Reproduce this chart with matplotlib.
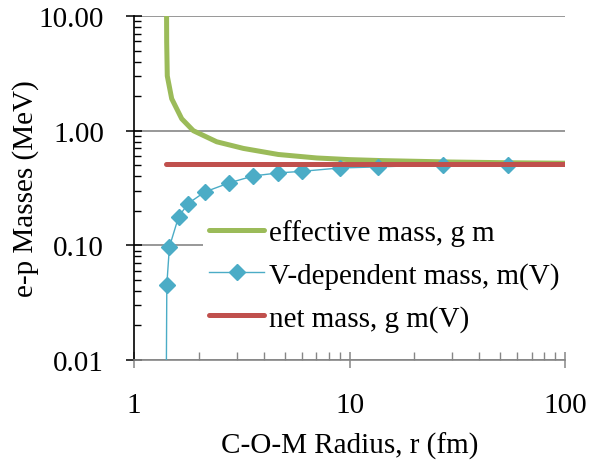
"""Effective, V-dependent and net e-p masses against centre-of-mass radius."""

import numpy as np
import matplotlib

matplotlib.use("Agg")
from matplotlib import pyplot as plt
from matplotlib.ticker import FixedLocator, FuncFormatter, LogLocator, NullFormatter

# values
radius_fm = [1.41, 1.42, 1.46, 1.61, 1.78, 2.13, 2.76, 3.58, 4.67, 6.02, 9.03, 13.6, 27.2, 54.6, 100.0]
v_mass = [0.004, 0.0454, 0.097, 0.177, 0.231, 0.292, 0.350, 0.403, 0.428, 0.442, 0.473, 0.483, 0.505, 0.505, np.nan]
net_mass = [0.511] * len(radius_fm)

# the effective-mass curve is drawn on a finer radius grid
eff_radius_fm = [1.41, 1.418, 1.427, 1.496, 1.665, 1.884, 2.42, 3.22, 4.67, 7.04, 10.0, 14.3, 29.3, 54.6, 100.0]
effective_mass = [60.0, 5.9, 3.0, 1.9, 1.27, 1.0, 0.80, 0.70, 0.62, 0.578, 0.559, 0.548, 0.533, 0.525, 0.52]

labels = ["effective mass, g m", "V-dependent mass, m(V)", "net mass, g m(V)"]
y_ticks = [0.01, 0.1, 1.0, 10.0]

GREEN = "#9BBB59"
BLUE = "#4BACC6"
RED = "#C0504D"
GRAY = "#868686"

plt.rcParams["font.family"] = ["Liberation Serif", "DejaVu Serif"]

fig = plt.figure(figsize=(5.98, 4.64), dpi=100)
ax = fig.add_axes([134 / 598, 1 - 361 / 464, (565 - 134) / 598, (361 - 17) / 464])

ax.plot(eff_radius_fm, effective_mass, color=GREEN, lw=3.6, label=labels[0],
        solid_capstyle="round", solid_joinstyle="round", zorder=3)
ax.plot(radius_fm, v_mass, color=BLUE, lw=1.0, marker="D", ms=8.2,
        mec=BLUE, mfc=BLUE, label=labels[1], zorder=4)
ax.plot(radius_fm, net_mass, color=RED, lw=3.6, label=labels[2],
        solid_capstyle="round", zorder=5)

ax.set_xscale("log")
ax.set_yscale("log")
ax.set_xlim(1, 100)
ax.set_ylim(0.01, 10)

ax.yaxis.set_major_locator(FixedLocator(y_ticks))
ax.yaxis.set_major_formatter(FuncFormatter(lambda v, _: f"{v:.2f}"))
ax.yaxis.set_minor_locator(LogLocator(base=10, subs=np.arange(2, 10)))
ax.yaxis.set_minor_formatter(NullFormatter())
ax.xaxis.set_major_formatter(FuncFormatter(lambda v, _: f"{v:g}"))
ax.xaxis.set_minor_locator(LogLocator(base=10, subs=np.arange(2, 10)))
ax.xaxis.set_minor_formatter(NullFormatter())

ax.grid(axis="y", which="major", color=GRAY, lw=1.2, zorder=1)
for side in ("top", "right"):
    ax.spines[side].set_visible(False)
ax.spines["left"].set_color("black")
ax.spines["left"].set_linewidth(1.2)
ax.spines["bottom"].set_color(GRAY)
ax.spines["bottom"].set_linewidth(1.2)

ax.tick_params(axis="y", which="major", direction="inout", length=11, width=1.1,
               color="black", labelsize=21, pad=16)
ax.tick_params(axis="y", which="minor", direction="in", length=5, width=1.0, color="black")
ax.tick_params(axis="x", which="major", direction="inout", length=12, width=1.1,
               color=GRAY, labelsize=21, pad=17)
ax.tick_params(axis="x", which="minor", direction="in", length=6, width=1.0, color=GRAY)

ax.set_xlabel("C-O-M Radius, r (fm)", fontsize=21, labelpad=10)
ax.set_ylabel("e-p Masses (MeV)", fontsize=21, labelpad=0)

leg = ax.legend(loc="upper left", bbox_to_anchor=(203 / 598, 1 - 214 / 464),
                bbox_transform=fig.transFigure, fontsize=21, frameon=True,
                facecolor="white", edgecolor="none", framealpha=1.0, fancybox=False,
                handlelength=1.9, handletextpad=0.15, labelspacing=0.55,
                borderpad=0.2, borderaxespad=0)
leg.set_zorder(6)

fig.savefig("out.png", dpi=100)
